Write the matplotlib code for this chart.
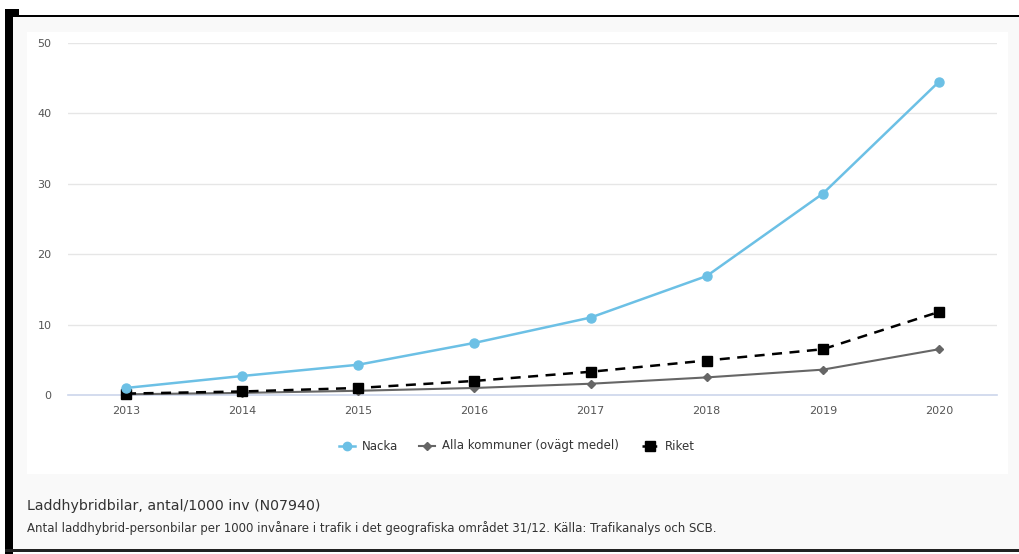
import matplotlib
matplotlib.use("Agg")
import matplotlib.pyplot as plt
from matplotlib.patches import Rectangle
from matplotlib.lines import Line2D

years = [2013, 2014, 2015, 2016, 2017, 2018, 2019, 2020]
nacka = [1.0, 2.7, 4.3, 7.4, 11.0, 16.9, 28.6, 44.5]
alla_kommuner = [0.1, 0.3, 0.6, 1.0, 1.6, 2.5, 3.6, 6.5]
riket = [0.2, 0.5, 1.0, 2.0, 3.3, 4.9, 6.5, 11.8]
y_ticks = [0, 10, 20, 30, 40, 50]
series_names = ["Nacka", "Alla kommuner (ovägt medel)", "Riket"]
title = "Laddhybridbilar, antal/1000 inv (N07940)"
subtitle = ("Antal laddhybrid-personbilar per 1000 invånare i trafik i det "
            "geografiska området 31/12. Källa: Trafikanalys och SCB.")

W, H = 1020, 554
plt.rcParams["font.family"] = ["DejaVu Sans"]
fig = plt.figure(figsize=(W / 100, H / 100), dpi=100)
fig.patch.set_facecolor("white")

# Background layer in pixel coordinates for the frame and panels
bg = fig.add_axes([0, 0, 1, 1])
bg.set_xlim(0, W)
bg.set_ylim(H, 0)
bg.axis("off")
bg.add_patch(Rectangle((13, 17), W - 13, 532, facecolor="#f9f9f9", edgecolor="none"))
bg.add_patch(Rectangle((27, 32), 981, 442, facecolor="white", edgecolor="none"))
bg.add_patch(Rectangle((5, 9), 14, 7, facecolor="black", edgecolor="none"))
bg.add_patch(Rectangle((5, 9), 8, H - 9, facecolor="black", edgecolor="none"))
bg.add_patch(Rectangle((13, 14.5), W - 13, 2.2, facecolor="black", edgecolor="none"))
bg.add_patch(Rectangle((5, 549), W - 5, 3, facecolor="#222222", edgecolor="none"))

bg.text(27, 506, title, fontsize=10.2, color="#333333", va="center", ha="left")
bg.text(27, 528, subtitle, fontsize=8.5, color="#333333", va="center", ha="left")

# Chart axes
left, right, top, bottom = 68, 997, 43, 395
ax = fig.add_axes([left / W, (H - bottom) / H, (right - left) / W, (bottom - top) / H])
ax.set_facecolor("none")
ax.set_xlim(2012.5, 2020.5)
ax.set_ylim(0, 50)
for s in ax.spines.values():
    s.set_visible(False)
ax.set_yticks(y_ticks)
ax.set_xticks(years)
ax.tick_params(axis="both", length=0, labelsize=8, labelcolor="#555555")
ax.tick_params(axis="y", pad=12)
ax.tick_params(axis="x", pad=8)
for t in y_ticks[1:]:
    ax.axhline(t, color="#e6e6e6", lw=1, zorder=0)
ax.axhline(0, color="#ccd6eb", lw=1.2, zorder=1, clip_on=False)

blue = "#6cc0e5"
ax.plot(years, nacka, color=blue, lw=1.8, marker="o", ms=6.5, clip_on=False, zorder=4)
ax.plot(years, alla_kommuner, color="#666666", lw=1.5, marker="D", ms=4.5, clip_on=False, zorder=3)
ax.plot(years, riket, color="black", lw=1.8, ls=(0, (4, 3)), marker="s", ms=6.5,
        clip_on=False, zorder=3)

# Legend drawn in pixel coordinates below the chart
ly = 446
items = [
    (339, series_names[0], blue, 1.8, "o", 6, "-"),
    (419, series_names[1], "#666666", 1.5, "D", 4.5, "-"),
    (642, series_names[2], "black", 1.8, "s", 6.5, (0, (2.2, 1.5))),
]
for x0, name, color, lw, marker, ms, ls in items:
    bg.add_line(Line2D([x0, x0 + 16], [ly, ly], color=color, lw=lw, ls=ls))
    bg.plot([x0 + 8], [ly], marker=marker, ms=ms, color=color, ls="none")
    bg.text(x0 + 23, ly, name, fontsize=8.5, color="#333333", va="center", ha="left")

fig.savefig("out.png", dpi=100)
